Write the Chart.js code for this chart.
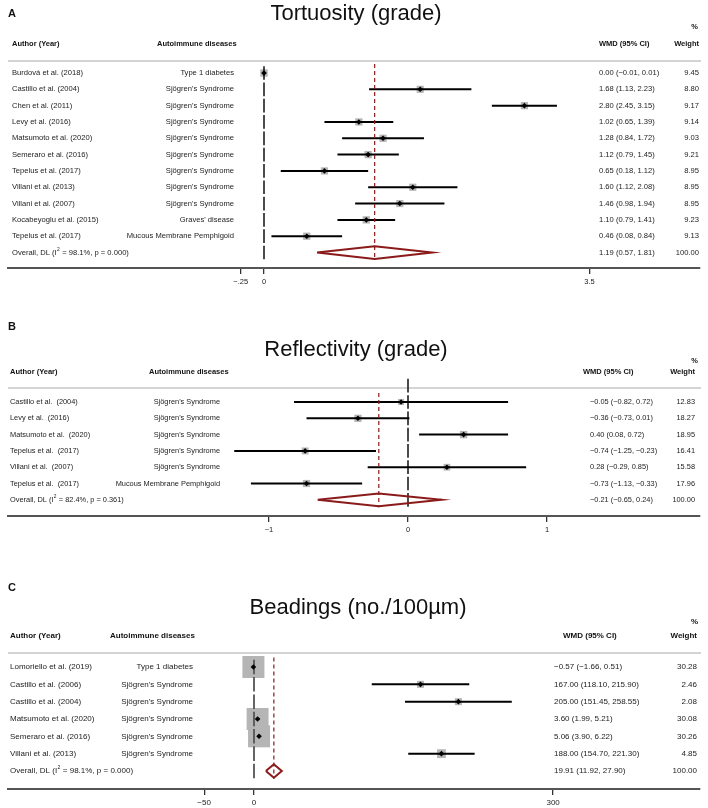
<!DOCTYPE html>
<html><head><meta charset="utf-8">
<script src="https://cdn.jsdelivr.net/npm/chart.js@4.4.0/dist/chart.umd.min.js"></script>
<style>
html,body{margin:0;padding:0;background:#fff;overflow:hidden;}
#wrap{position:relative;width:708px;height:808px;background:#fff;}
canvas{position:absolute;left:0;}
</style></head><body>
<div id="wrap">
<canvas id="cA" width="708" height="300" style="top:0px"></canvas>
<canvas id="cB" width="708" height="240" style="top:300px"></canvas>
<canvas id="cC" width="708" height="268" style="top:540px"></canvas>
</div>
<script>
// ---------- Panel A: Tortuosity ----------
const tortAuthors = ["Burdová et al. (2018)","Castillo et al. (2004)","Chen et al. (2011)","Levy et al. (2016)","Matsumoto et al. (2020)","Semeraro et al. (2016)","Tepelus et al. (2017)","Villani et al. (2013)","Villani et al. (2007)","Kocabeyoglu et al. (2015)","Tepelus et al. (2017)"];
const tortDiseases = ["Type 1 diabetes","Sjögren's Syndrome","Sjögren's Syndrome","Sjögren's Syndrome","Sjögren's Syndrome","Sjögren's Syndrome","Sjögren's Syndrome","Sjögren's Syndrome","Sjögren's Syndrome","Graves' disease","Mucous Membrane Pemphigoid"];
const tortWMD = [0.00,1.68,2.80,1.02,1.28,1.12,0.65,1.60,1.46,1.10,0.46];
const tortLow = [-0.01,1.13,2.45,0.65,0.84,0.79,0.18,1.12,0.98,0.79,0.08];
const tortHigh = [0.01,2.23,3.15,1.39,1.72,1.45,1.12,2.08,1.94,1.41,0.84];
const tortWeight = [9.45,8.80,9.17,9.14,9.03,9.21,8.95,8.95,8.95,9.23,9.13];
const tortOverall = [1.19,0.57,1.81];
const tortHet = [98.1,"0.000"];
const tortTicks = [-0.25,0,3.5];
const tortTickLabels = ["\u2212.25","0","3.5"];

// ---------- Panel B: Reflectivity ----------
const reflAuthors = ["Castillo et al.  (2004)","Levy et al.  (2016)","Matsumoto et al.  (2020)","Tepelus et al.  (2017)","Villani et al.  (2007)","Tepelus et al.  (2017)"];
const reflDiseases = ["Sjögren's Syndrome","Sjögren's Syndrome","Sjögren's Syndrome","Sjögren's Syndrome","Sjögren's Syndrome","Mucous Membrane Pemphigoid"];
const reflWMD = [-0.05,-0.36,0.40,-0.74,0.28,-0.73];
const reflLow = [-0.82,-0.73,0.08,-1.25,-0.29,-1.13];
const reflHigh = [0.72,0.01,0.72,-0.23,0.85,-0.33];
const reflWeight = [12.83,18.27,18.95,16.41,15.58,17.96];
const reflOverall = [-0.21,-0.65,0.24];
const reflHet = [82.4,"0.361"];
const reflTicks = [-1,0,1];
const reflTickLabels = ["\u22121","0","1"];

// ---------- Panel C: Beadings ----------
const beadAuthors = ["Lomoriello et al. (2019)","Castillo et al. (2006)","Castillo et al. (2004)","Matsumoto et al. (2020)","Semeraro et al. (2016)","Villani et al. (2013)"];
const beadDiseases = ["Type 1 diabetes","Sjögren's Syndrome","Sjögren's Syndrome","Sjögren's Syndrome","Sjögren's Syndrome","Sjögren's Syndrome"];
const beadWMD = [-0.57,167.00,205.00,3.60,5.06,188.00];
const beadLow = [-1.66,118.10,151.45,1.99,3.90,154.70];
const beadHigh = [0.51,215.90,258.55,5.21,6.22,221.30];
const beadWeight = [30.28,2.46,2.08,30.08,30.26,4.85];
const beadOverall = [19.91,11.92,27.90];
const beadHet = [98.1,"0.000"];
const beadTicks = [-50,0,300];
const beadTickLabels = ["\u221250","0","300"];

const FONT = "'Liberation Sans', Arial, Helvetica, sans-serif";
const RED = '#8b1a1a';

function fmt(v){ const s = Math.abs(v).toFixed(2); return (v < 0 ? '\u2212' : '') + s; }

function makePanel(id, D, L){
  const n = D.authors.length;
  const H = L.height;
  const xmin = -(L.zeroX - 8) / L.ppu, xmax = (700 - L.zeroX) / L.ppu;
  const ymin = -(L.row0 - L.areaTop) / L.step;
  const ymax = n + (L.axisY - (L.row0 + n * L.step)) / L.step;

  const datasets = [];
  // weight boxes
  datasets.push({type:'scatter', order:6,
    data: D.wmd.map((v,i)=>({x:v,y:i})),
    pointStyle:'rect',
    pointRadius: D.weight.map(w => Math.max(L.minBox, L.boxK*Math.sqrt(w)) / (2*Math.SQRT1_2)),
    pointHoverRadius: 0,
    backgroundColor:'#b5b5b5', borderWidth:0});
  // null line segments
  for (let i=(L.zeroAbove ? -1 : 0);i<=n;i++){
    datasets.push({type:'line', order:5, clip:false, data:[{x:0,y:i-0.42},{x:0,y:i+0.42}],
      borderColor:L.zeroColor, borderWidth:L.zeroWidth, pointRadius:0, showLine:true});
  }
  // CI lines
  for (let i=0;i<n;i++){
    datasets.push({type:'line', order:4, data:[{x:D.low[i],y:i},{x:D.high[i],y:i}],
      borderColor:'#000', borderWidth:2, pointRadius:0, showLine:true, borderCapStyle:'butt'});
  }
  // overall vertical dashed line
  datasets.push({type:'line', order:3, data:[{x:D.overall[0],y:-0.55},{x:D.overall[0],y:n+0.45}],
    borderColor:RED, borderWidth:1.2, borderDash:[4,3], pointRadius:0, showLine:true});
  // point markers
  datasets.push({type:'scatter', order:2, data: D.wmd.map((v,i)=>({x:v,y:i})),
    pointStyle:'rectRot', pointRadius:2.8, backgroundColor:'#000', borderWidth:0});
  // overall diamond
  const o = D.overall, dh = 0.39;
  datasets.push({type:'line', order:1, data:[{x:o[1],y:n},{x:o[0],y:n-dh},{x:o[2],y:n},{x:o[0],y:n+dh},{x:o[1],y:n}],
    borderColor:RED, borderWidth:2, pointRadius:0, showLine:true, fill:false, tension:0, borderJoinStyle:'miter'});

  const textPlugin = {
    id:'forestText'+id,
    beforeDatasetsDraw(chart){
      const ctx = chart.ctx;
      ctx.save();
      ctx.strokeStyle = '#c6c6c6'; ctx.lineWidth = 1.6;
      ctx.beginPath(); ctx.moveTo(8, L.areaTop); ctx.lineTo(701, L.areaTop); ctx.stroke();
      ctx.restore();
    },
    afterDraw(chart){
      const ctx = chart.ctx, ys = chart.scales.y;
      ctx.save();
      ctx.fillStyle = '#111';
      ctx.textBaseline = 'alphabetic';
      ctx.font = 'bold 11px ' + FONT; ctx.textAlign = 'left';
      ctx.fillText(L.letter, 8, L.letterY);
      ctx.font = L.titleSize + 'px ' + FONT; ctx.textAlign = 'center';
      ctx.fillText(D.title, L.titleX, L.titleY);
      ctx.font = 'bold ' + L.hdrSize + 'px ' + FONT; ctx.textAlign = 'right';
      ctx.fillText('%', 698, L.pctY);
      ctx.textBaseline = 'middle';
      ctx.textAlign = 'left';
      ctx.fillText('Author (Year)', L.authorX, L.headerY);
      ctx.fillText('Autoimmune diseases', L.disHdrX, L.headerY);
      ctx.fillText('WMD (95% CI)', L.wmdHdrX, L.headerY);
      ctx.textAlign = 'right';
      ctx.fillText('Weight', L.weightR, L.headerY);
      ctx.font = L.rowSize + 'px ' + FONT;
      ctx.fillStyle = '#222';
      for (let i=0;i<n;i++){
        const y = ys.getPixelForValue(i);
        ctx.textAlign = 'left';
        ctx.fillText(D.authors[i], L.authorX, y);
        ctx.fillText(fmt(D.wmd[i]) + ' (' + fmt(D.low[i]) + ', ' + fmt(D.high[i]) + ')', L.wmdX, y);
        ctx.textAlign = 'right';
        ctx.fillText(D.diseases[i], L.disR, y);
        ctx.fillText(D.weight[i].toFixed(2), L.weightR, y);
      }
      const y = ys.getPixelForValue(n);
      ctx.textAlign = 'left';
      let x = L.authorX;
      const p1 = 'Overall, DL (I';
      ctx.fillText(p1, x, y); x += ctx.measureText(p1).width;
      ctx.font = (L.rowSize*0.65) + 'px ' + FONT;
      ctx.fillText('2', x + 0.3, y - 3); x += ctx.measureText('2').width + 0.6;
      ctx.font = L.rowSize + 'px ' + FONT;
      ctx.fillText(' = ' + D.het[0].toFixed(1) + '%, p = ' + D.het[1] + ')', x, y);
      ctx.fillText(fmt(o[0]) + ' (' + fmt(o[1]) + ', ' + fmt(o[2]) + ')', L.wmdX, y);
      ctx.textAlign = 'right';
      ctx.fillText('100.00', L.weightR, y);
      ctx.restore();
    }
  };

  return new Chart(document.getElementById(id), {
    type:'scatter',
    data:{datasets},
    options:{
      responsive:false, animation:false, devicePixelRatio:1,
      layout:{autoPadding:false, padding:{left:8, right:8, top:L.areaTop, bottom:H - L.axisY - 18}},
      plugins:{legend:{display:false}, tooltip:{enabled:false}},
      scales:{
        x:{type:'linear', min:xmin, max:xmax,
          afterBuildTicks: s => { s.ticks = D.ticks.map(v => ({value:v})); },
          afterFit: s => { s.height = 18; },
          ticks:{autoSkip:false, maxRotation:0, padding:3, color:'#222',
            font:{family:FONT, size:L.tickSize},
            callback: v => D.tickLabels[D.ticks.indexOf(v)]},
          grid:{display:true, drawOnChartArea:false, drawTicks:true, tickLength:6, color:'#333', lineWidth:1.3},
          border:{display:true, color:'#555', width:2}
        },
        y:{type:'linear', reverse:true, min:ymin, max:ymax, display:false}
      }
    },
    plugins:[textPlugin]
  });
}

makePanel('cA', {title:'Tortuosity (grade)', authors:tortAuthors, diseases:tortDiseases, wmd:tortWMD, low:tortLow, high:tortHigh, weight:tortWeight, overall:tortOverall, het:tortHet, ticks:tortTicks, tickLabels:tortTickLabels},
  {height:300, areaTop:61, axisY:268, row0:73, step:16.32, zeroX:264, ppu:93, boxK:2.4, minBox:5,
   zeroColor:'#111', zeroWidth:1.5, letter:'A', letterY:17, titleX:356, titleY:20, titleSize:22, pctY:29,
   headerY:44, authorX:12, disHdrX:157, disR:234, wmdHdrX:599, wmdX:599, weightR:699, rowSize:7.6, hdrSize:7.5, tickSize:7.5});

makePanel('cB', {title:'Reflectivity (grade)', authors:reflAuthors, diseases:reflDiseases, wmd:reflWMD, low:reflLow, high:reflHigh, weight:reflWeight, overall:reflOverall, het:reflHet, ticks:reflTicks, tickLabels:reflTickLabels},
  {height:240, areaTop:88, axisY:216, row0:102, step:16.3, zeroX:408, ppu:139, boxK:1.7, minBox:5,
   zeroColor:'#111', zeroWidth:1.5, zeroAbove:true, letter:'B', letterY:30, titleX:356, titleY:56, titleSize:22, pctY:63,
   headerY:72, authorX:10, disHdrX:149, disR:220, wmdHdrX:583, wmdX:590, weightR:695, rowSize:7.4, hdrSize:7.5, tickSize:7.5});

makePanel('cC', {title:'Beadings (no./100\u00b5m)', authors:beadAuthors, diseases:beadDiseases, wmd:beadWMD, low:beadLow, high:beadHigh, weight:beadWeight, overall:beadOverall, het:beadHet, ticks:beadTicks, tickLabels:beadTickLabels},
  {height:268, areaTop:113, axisY:249, row0:127, step:17.33, zeroX:254, ppu:0.997, boxK:4.0, minBox:7,
   zeroColor:'#555', zeroWidth:1.8, letter:'C', letterY:51, titleX:358, titleY:74, titleSize:22, pctY:84,
   headerY:96, authorX:10, disHdrX:110, disR:193, wmdHdrX:563, wmdX:554, weightR:697, rowSize:8.0, hdrSize:8.0, tickSize:8});
</script>
</body></html>
